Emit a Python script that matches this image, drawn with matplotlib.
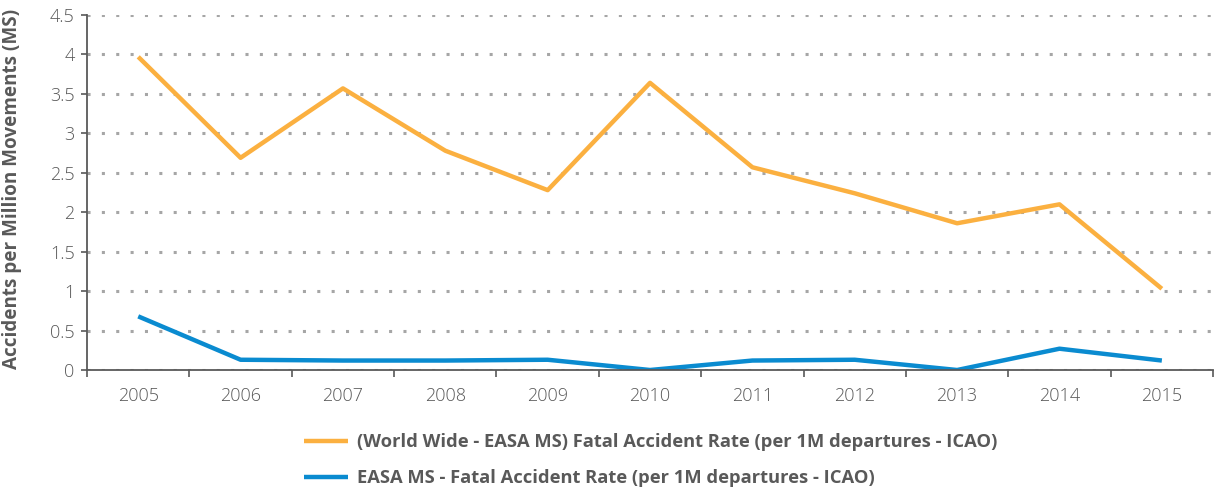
import matplotlib
matplotlib.use("Agg")
import matplotlib.pyplot as plt
import numpy as np

years = ["2005", "2006", "2007", "2008", "2009", "2010", "2011", "2012", "2013", "2014", "2015"]
world_wide = [3.97, 2.69, 3.57, 2.78, 2.28, 3.64, 2.57, 2.24, 1.86, 2.10, 1.03]
easa_ms = [0.68, 0.13, 0.12, 0.12, 0.13, 0.0, 0.12, 0.13, 0.0, 0.27, 0.12]
yticks = [0, 0.5, 1, 1.5, 2, 2.5, 3, 3.5, 4, 4.5]
ytick_labels = ["0", "0.5", "1", "1.5", "2", "2.5", "3", "3.5", "4", "4.5"]

plt.rcParams['font.family'] = ['Open Sans', 'DejaVu Sans']

fig = plt.figure(figsize=(12.14, 4.94), dpi=100)
ax = fig.add_axes([0.0717, 0.251, 0.9275, 0.7186])

x = np.arange(len(years))
l1, = ax.plot(x, world_wide, color="#FBB040", lw=3.2, solid_capstyle='butt',
              label="(World Wide - EASA MS) Fatal Accident Rate (per 1M departures - ICAO)")
l2, = ax.plot(x, easa_ms, color="#0A8BD0", lw=3.2, solid_capstyle='butt',
              label="EASA MS - Fatal Accident Rate (per 1M departures - ICAO)")

ax.set_xlim(-0.5, len(years) - 0.5)
ax.set_ylim(0, 4.5)
ax.set_yticks(yticks)
ax.set_yticklabels(ytick_labels)
ax.set_xticks(x)
ax.set_xticklabels(years)
ax.set_xticks(np.arange(-0.5, len(years)), minor=True)
ax.tick_params(axis='x', which='major', length=0, pad=12, labelsize=13, labelcolor="#595959")
ax.tick_params(axis='x', which='minor', length=5, width=1.2, color="#595959")
ax.tick_params(axis='y', length=4, width=1.2, color="#595959", labelsize=13, labelcolor="#595959", pad=5)
for lbl in ax.get_xticklabels() + ax.get_yticklabels():
    lbl.set_fontweight('light')

ax.grid(axis='y', color="#A6A6A6", linestyle=(0, (1, 3.7)), lw=2.2)
ax.set_axisbelow(True)
for s in ['top', 'right']:
    ax.spines[s].set_visible(False)
for s in ['left', 'bottom']:
    ax.spines[s].set_color("#595959")
    ax.spines[s].set_linewidth(1.3)

ax.set_ylabel("Accidents per Million Movements (MS)", fontsize=13.6, fontweight='bold',
              color="#595959")
ax.yaxis.set_label_coords(-0.0575, 0.51)

fig.legend(handles=[l1, l2], loc='upper left', bbox_to_anchor=(0.237, 0.157),
           frameon=False, labelcolor="#595959", handlelength=2.4,
           handletextpad=0.45, labelspacing=1.0, prop={'weight': 'bold', 'size': 13.25})

fig.savefig("out.png", dpi=100)
